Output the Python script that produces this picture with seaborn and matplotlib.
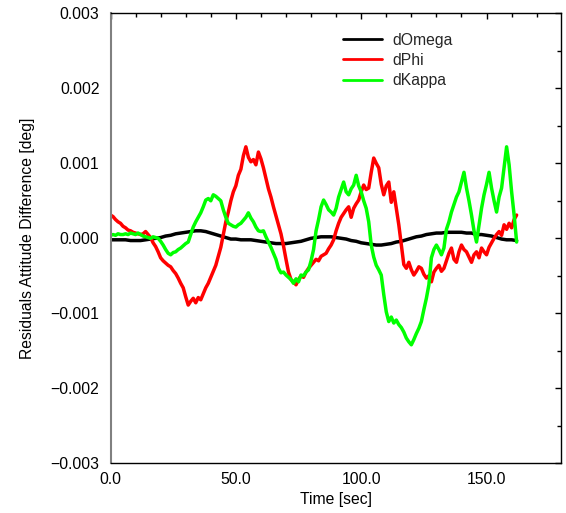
import numpy as np
import pandas as pd
import matplotlib
matplotlib.use("Agg")
import matplotlib.pyplot as plt
import seaborn as sns
from matplotlib.ticker import MultipleLocator, FuncFormatter

# ---- data (values in units of 0.001 deg) ----
t_fine = list(range(0, 163))
t_omega = list(range(0, 163, 2))

d_omega = [-0.02, -0.02, -0.02, -0.02, -0.03, -0.03, -0.03, -0.02, -0.01, 0.00,
           0.01, 0.03, 0.04, 0.06, 0.07, 0.08, 0.09, 0.10, 0.10, 0.09,
           0.07, 0.05, 0.03, 0.01, -0.01, -0.01, -0.02, -0.02, -0.02, -0.03,
           -0.04, -0.05, -0.06, -0.07, -0.07, -0.07, -0.06, -0.05, -0.04, -0.02,
           0.00, 0.01, 0.02, 0.02, 0.02, 0.01, 0.00, -0.01, -0.03, -0.04,
           -0.06, -0.07, -0.08, -0.09, -0.09, -0.08, -0.07, -0.05, -0.04, -0.02,
           0.00, 0.02, 0.03, 0.05, 0.06, 0.07, 0.07, 0.08, 0.08, 0.08,
           0.08, 0.07, 0.07, 0.05, 0.05, 0.04, 0.03, 0.01, -0.01, -0.02,
           -0.02, -0.03]

d_phi = [0.31, 0.29, 0.25, 0.22, 0.20, 0.16, 0.14, 0.11, 0.10, 0.08,
         0.07, 0.06, 0.05, 0.06, 0.09, 0.05, 0.01, -0.06, -0.11, -0.18,
         -0.26, -0.30, -0.33, -0.36, -0.38, -0.43, -0.47, -0.53, -0.60, -0.66,
         -0.78, -0.89, -0.84, -0.80, -0.86, -0.79, -0.82, -0.74, -0.66, -0.60,
         -0.52, -0.44, -0.36, -0.24, -0.12, 0.05, 0.22, 0.35, 0.50, 0.62,
         0.70, 0.84, 0.92, 1.10, 1.22, 1.08, 1.02, 1.05, 0.98, 1.15,
         1.06, 0.94, 0.80, 0.66, 0.55, 0.42, 0.30, 0.18, 0.06, -0.10,
         -0.28, -0.45, -0.55, -0.58, -0.62, -0.55, -0.50, -0.52, -0.45, -0.40,
         -0.36, -0.32, -0.28, -0.30, -0.24, -0.22, -0.20, -0.14, -0.09, -0.02,
         0.10, 0.20, 0.28, 0.33, 0.38, 0.42, 0.28, 0.40, 0.46, 0.51,
         0.62, 0.71, 0.65, 0.67, 0.88, 1.07, 1.00, 0.94, 0.72, 0.58,
         0.70, 0.75, 0.48, 0.62, 0.40, 0.18, -0.09, -0.35, -0.40, -0.32,
         -0.42, -0.49, -0.44, -0.38, -0.40, -0.48, -0.53, -0.50, -0.58, -0.45,
         -0.40, -0.36, -0.44, -0.40, -0.30, -0.20, -0.13, -0.28, -0.32, -0.18,
         -0.09, -0.15, -0.18, -0.25, -0.32, -0.22, -0.18, -0.26, -0.13, -0.18,
         -0.22, -0.12, -0.06, 0.00, 0.05, 0.09, 0.04, 0.18, 0.12, 0.20,
         0.14, 0.25, 0.31]

d_kappa = [0.04, 0.05, 0.04, 0.06, 0.05, 0.05, 0.06, 0.05, 0.07, 0.06,
           0.05, 0.07, 0.05, 0.03, 0.02, 0.01, 0.00, 0.02, 0.01, 0.00,
           -0.04, -0.09, -0.15, -0.20, -0.22, -0.19, -0.18, -0.15, -0.13, -0.10,
           -0.07, -0.05, 0.05, 0.15, 0.22, 0.28, 0.34, 0.42, 0.51, 0.53,
           0.50, 0.58, 0.56, 0.53, 0.50, 0.38, 0.28, 0.20, 0.18, 0.16,
           0.15, 0.18, 0.20, 0.24, 0.28, 0.34, 0.27, 0.22, 0.15, 0.10,
           0.09, 0.10, 0.02, -0.05, -0.12, -0.20, -0.28, -0.40, -0.46, -0.45,
           -0.49, -0.52, -0.55, -0.60, -0.54, -0.58, -0.49, -0.50, -0.45, -0.42,
           -0.30, -0.15, 0.10, 0.25, 0.42, 0.51, 0.45, 0.38, 0.35, 0.31,
           0.40, 0.55, 0.65, 0.75, 0.62, 0.58, 0.66, 0.71, 0.84, 0.70,
           0.62, 0.50, 0.40, 0.22, -0.09, -0.25, -0.36, -0.42, -0.49, -0.75,
           -0.98, -1.11, -1.05, -1.13, -1.09, -1.15, -1.19, -1.25, -1.33, -1.38,
           -1.42, -1.35, -1.27, -1.20, -1.11, -0.95, -0.80, -0.62, -0.26, -0.15,
           -0.09, -0.15, -0.22, -0.13, 0.12, 0.22, 0.35, 0.45, 0.55, 0.62,
           0.75, 0.88, 0.67, 0.50, 0.31, 0.10, -0.05, 0.18, 0.40, 0.58,
           0.72, 0.88, 0.67, 0.50, 0.35, 0.55, 0.67, 0.94, 1.22, 0.98,
           0.62, 0.31, -0.05]

series_names = ["dOmega", "dPhi", "dKappa"]
series_colors = ["#000000", "#ff0000", "#00ff00"]

frames = [
    pd.DataFrame({"Time": t_omega, "value": np.array(d_omega) * 1e-3, "series": "dOmega"}),
    pd.DataFrame({"Time": t_fine, "value": np.array(d_phi) * 1e-3, "series": "dPhi"}),
    pd.DataFrame({"Time": t_fine, "value": np.array(d_kappa) * 1e-3, "series": "dKappa"}),
]
df = pd.concat(frames, ignore_index=True)

sns.set_theme(style="white")
plt.rcParams["font.family"] = ["Liberation Sans", "DejaVu Sans"]
fs = 11.3

fig = plt.figure(figsize=(5.66, 5.13), dpi=100)
ax = fig.add_axes([110.5 / 566, 1 - 463.3 / 513, 450.5 / 566, 450 / 513])

sns.lineplot(data=df, x="Time", y="value", hue="series", hue_order=series_names,
             palette=dict(zip(series_names, series_colors)), estimator=None,
             sort=False, linewidth=2.5, ax=ax)

ax.set_xlim(0, 179.7)
ax.set_ylim(-0.003, 0.003)
ax.xaxis.set_major_locator(MultipleLocator(50))
ax.xaxis.set_minor_locator(MultipleLocator(10))
ax.yaxis.set_major_locator(MultipleLocator(0.001))
ax.yaxis.set_minor_locator(MultipleLocator(0.0005))


def yfmt(v, pos):
    s = f"{v:.3f}"
    if s == "-0.000":
        s = "0.000"
    return s.replace("-", "\u2212")


ax.yaxis.set_major_formatter(FuncFormatter(yfmt))
ax.xaxis.set_major_formatter(FuncFormatter(lambda v, p: f"{v:.1f}"))

ax.tick_params(which="both", direction="in", top=True, right=True, color="black",
               width=1.0, labelsize=fs, labelcolor="black")
ax.tick_params(which="major", length=4.5)
ax.tick_params(which="minor", length=3.0)
ax.tick_params(axis="y", pad=8)
ax.tick_params(axis="x", pad=6)

for side in ["top", "right", "bottom"]:
    ax.spines[side].set_color("black")
    ax.spines[side].set_linewidth(1.0)
ax.spines["left"].set_color("#808080")
ax.spines["left"].set_linewidth(1.5)

ax.set_xlabel("Time [sec]", fontsize=fs, color="black")
ax.set_ylabel("Residuals Attitude Difference [deg]", fontsize=fs, color="black")
ax.xaxis.set_label_coords(0.5, -0.064)
ax.yaxis.set_label_coords(-0.168, 0.5)

leg = ax.legend(loc="upper left", bbox_to_anchor=(0.516, 0.957), frameon=False,
                fontsize=fs, handlelength=2.5, handletextpad=0.65,
                labelspacing=0.33, borderpad=0, borderaxespad=0)
for line in leg.get_lines():
    line.set_linewidth(2.0)

fig.savefig("out.png", dpi=100)
